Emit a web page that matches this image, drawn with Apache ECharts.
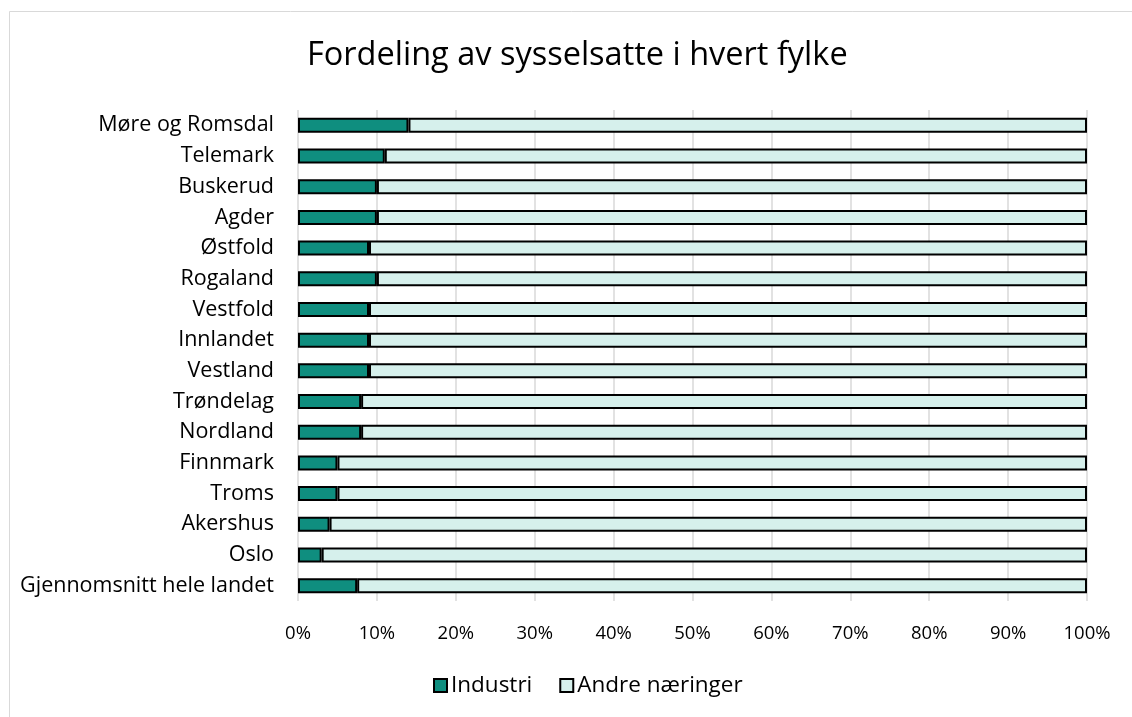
<!DOCTYPE html>
<html>
<head>
<meta charset="utf-8">
<script src="https://cdn.jsdelivr.net/npm/echarts@6/dist/echarts.min.js"></script>
<style>
  html, body { margin: 0; padding: 0; background: #fff; }
  #chart { width: 1132px; height: 717px; }
</style>
</head>
<body>
<div id="chart"></div>
<script>
// fylker, fra toppen
var fylker = ['Møre og Romsdal', 'Telemark', 'Buskerud', 'Agder', 'Østfold', 'Rogaland',
  'Vestfold', 'Innlandet', 'Vestland', 'Trøndelag', 'Nordland', 'Finnmark', 'Troms',
  'Akershus', 'Oslo', 'Gjennomsnitt hele landet'];
var industri = [14, 11, 10, 10, 9, 10, 9, 9, 9, 8, 8, 5, 5, 4, 3, 7.5];
var andre = [86, 89, 90, 90, 91, 90, 91, 91, 91, 92, 92, 95, 95, 96, 97, 92.5];
var xTicks = [0, 10, 20, 30, 40, 50, 60, 70, 80, 90, 100];

var fontName = 'Open Sans';
var myChart = echarts.init(document.getElementById('chart'));

var option = {
  animation: false,
  backgroundColor: '#fff',
  title: {
    text: 'Fordeling av sysselsatte i hvert fylke',
    left: 302,
    top: 34,
    textStyle: { fontFamily: fontName, fontSize: 32.5, fontWeight: 'normal', color: '#000' }
  },
  graphic: [{
    type: 'rect',
    shape: { x: 9.5, y: 11.5, width: 1200, height: 800 },
    style: { fill: 'none', stroke: '#d9d9d9', lineWidth: 1 },
    silent: true
  }],
  legend: {
    bottom: 15,
    left: 428,
    itemWidth: 13,
    itemHeight: 13,
    itemGap: 27,
    icon: 'rect',
    textStyle: { fontFamily: fontName, fontSize: 22.5, color: '#000', padding: [0, 0, 0, -1] },
    data: ['Industri', 'Andre næringer']
  },
  grid: { left: 298, right: 45, top: 110, height: 491 },
  xAxis: {
    type: 'value',
    min: 0,
    max: 100,
    interval: 10,
    axisLine: { show: false },
    axisTick: { show: false },
    splitLine: { lineStyle: { color: '#d9d9d9', width: 1.5 } },
    axisLabel: {
      fontFamily: fontName, fontSize: 18.5, color: '#000', margin: 23,
      formatter: function (v) { return xTicks.indexOf(v) >= 0 ? v + '%' : ''; }
    }
  },
  yAxis: {
    type: 'category',
    inverse: true,
    data: fylker,
    axisLine: { show: false },
    axisTick: { show: false },
    axisLabel: { fontFamily: fontName, fontSize: 21.5, color: '#000', margin: 24 }
  },
  series: [{
    name: 'Industri',
    type: 'bar',
    stack: 'tot',
    data: industri,
    barWidth: 15,
    itemStyle: { color: '#0f8e7f', borderColor: '#000', borderWidth: 2 }
  }, {
    name: 'Andre næringer',
    type: 'bar',
    stack: 'tot',
    data: andre,
    barWidth: 15,
    itemStyle: { color: '#d6f0ec', borderColor: '#000', borderWidth: 2 }
  }]
};

myChart.setOption(option);
</script>
</body>
</html>
